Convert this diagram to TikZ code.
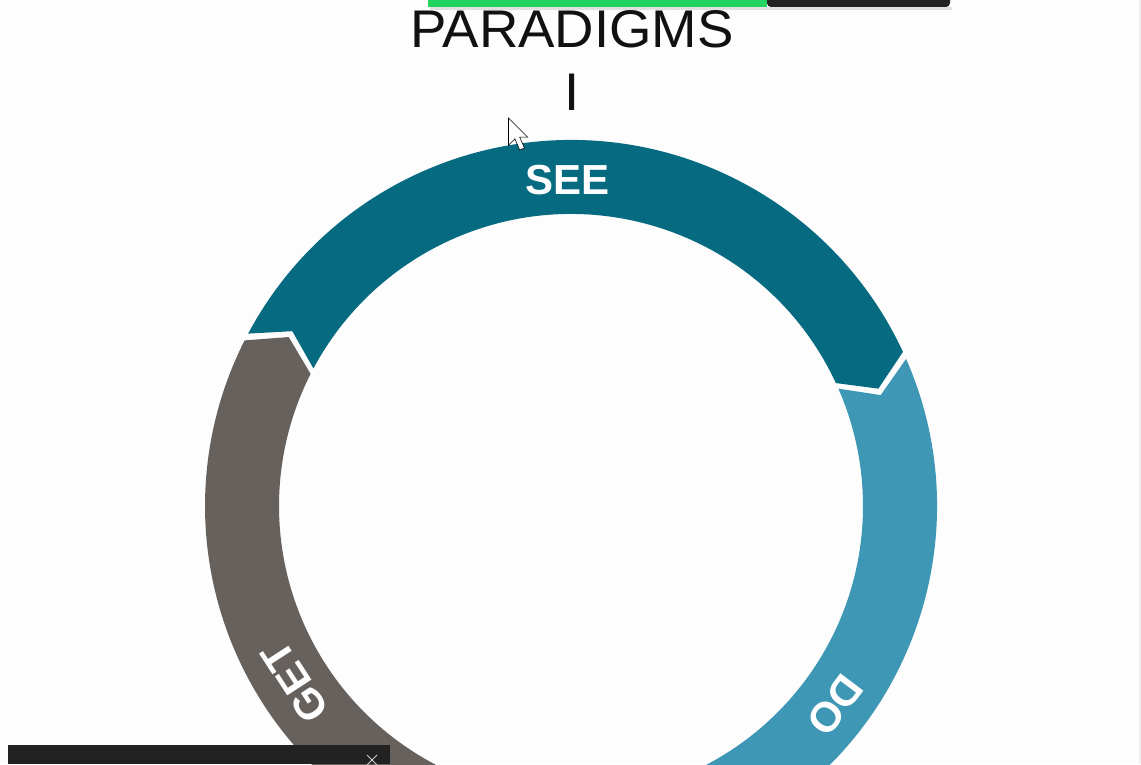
\documentclass[tikz,border=0pt]{standalone}
\usepackage{fontspec}
\setmainfont{Liberation Sans}
\definecolor{pagebg}{HTML}{FDFDFD}
\definecolor{seecol}{HTML}{066B80}
\definecolor{docol}{HTML}{3E97B5}
\definecolor{getcol}{HTML}{67615E}
\definecolor{barcol}{HTML}{222222}
\definecolor{greenbar}{HTML}{22D35F}
\definecolor{inkcol}{HTML}{111111}

% one arrow-shaped piece of the ring, running clockwise from #1 to #2
\newcommand\ringpiece[3]{%
  \pgfmathsetmacro\rpTail{#1-0.6}%
  \pgfmathsetmacro\rpHead{#2+0.6}%
  \pgfmathsetmacro\rpTailTip{\rpTail-4}%
  \pgfmathsetmacro\rpHeadTip{\rpHead-4}%
  \fill[#3] (\rpTail:366) arc[start angle=\rpTail, end angle=\rpHead, radius=366]
    -- (\rpHeadTip:329) -- (\rpHead:292)
    arc[start angle=\rpHead, end angle=\rpTail, radius=292]
    -- (\rpTailTip:329) -- cycle;}

\tikzset{
  ringlabel/.style={text=white, inner sep=0pt,
    font=\fontsize{42}{42}\selectfont\bfseries},
  titletext/.style={text=inkcol, inner sep=0pt, xscale=1.03,
    font=\fontsize{53}{53}\selectfont},
}

\begin{document}
\begin{tikzpicture}[x=1pt,y=1pt]
\useasboundingbox (0,0) rectangle (1141,764);
\fill[pagebg] (0,0) rectangle (1141,764);
\fill[black!6] (1139,0) rectangle (1141,764);

% title
\node[titletext] (title) at (572,735) {PARADIGMS};
\node[titletext] (numeral) at (572,672) {I};

% the cycle ring
\begin{scope}[shift={(571,258)}]
  \ringpiece{152.5}{24.3}{seecol}
  \ringpiece{24.3}{-92}{docol}
  \ringpiece{268}{152.5}{getcol}
  \node[ringlabel] (see) at (90.7:326) {SEE};
  \node[ringlabel, rotate=-127] (do) at (-37:331) {DO};
  \node[ringlabel, rotate=123] (get) at (212.5:327) {GET};
\end{scope}

% mouse pointer
\begin{scope}[shift={(508.5,646)}, scale=1.6]
  \filldraw[fill=white, draw=black, line width=0.6pt, line join=miter]
    (0,0) -- (0,-17) -- (4,-13) -- (7,-20) -- (10,-18.8) -- (7,-12) -- (12,-12) -- cycle;
\end{scope}

% toolbar strip along the top edge
\fill[black!12] (430,754) rectangle (952,757);
\fill[greenbar] (428,757) rectangle (767,764);
\fill[barcol, rounded corners=4pt] (767,757) -- (950,757) -- (950,770) -- (767,770) -- cycle;

% panel along the bottom edge
\fill[barcol] (8,0) rectangle (390,19);
\draw[white!80!black, line width=1pt] (367,-1) -- (377,9) (367,9) -- (377,-1);
\end{tikzpicture}
\end{document}
